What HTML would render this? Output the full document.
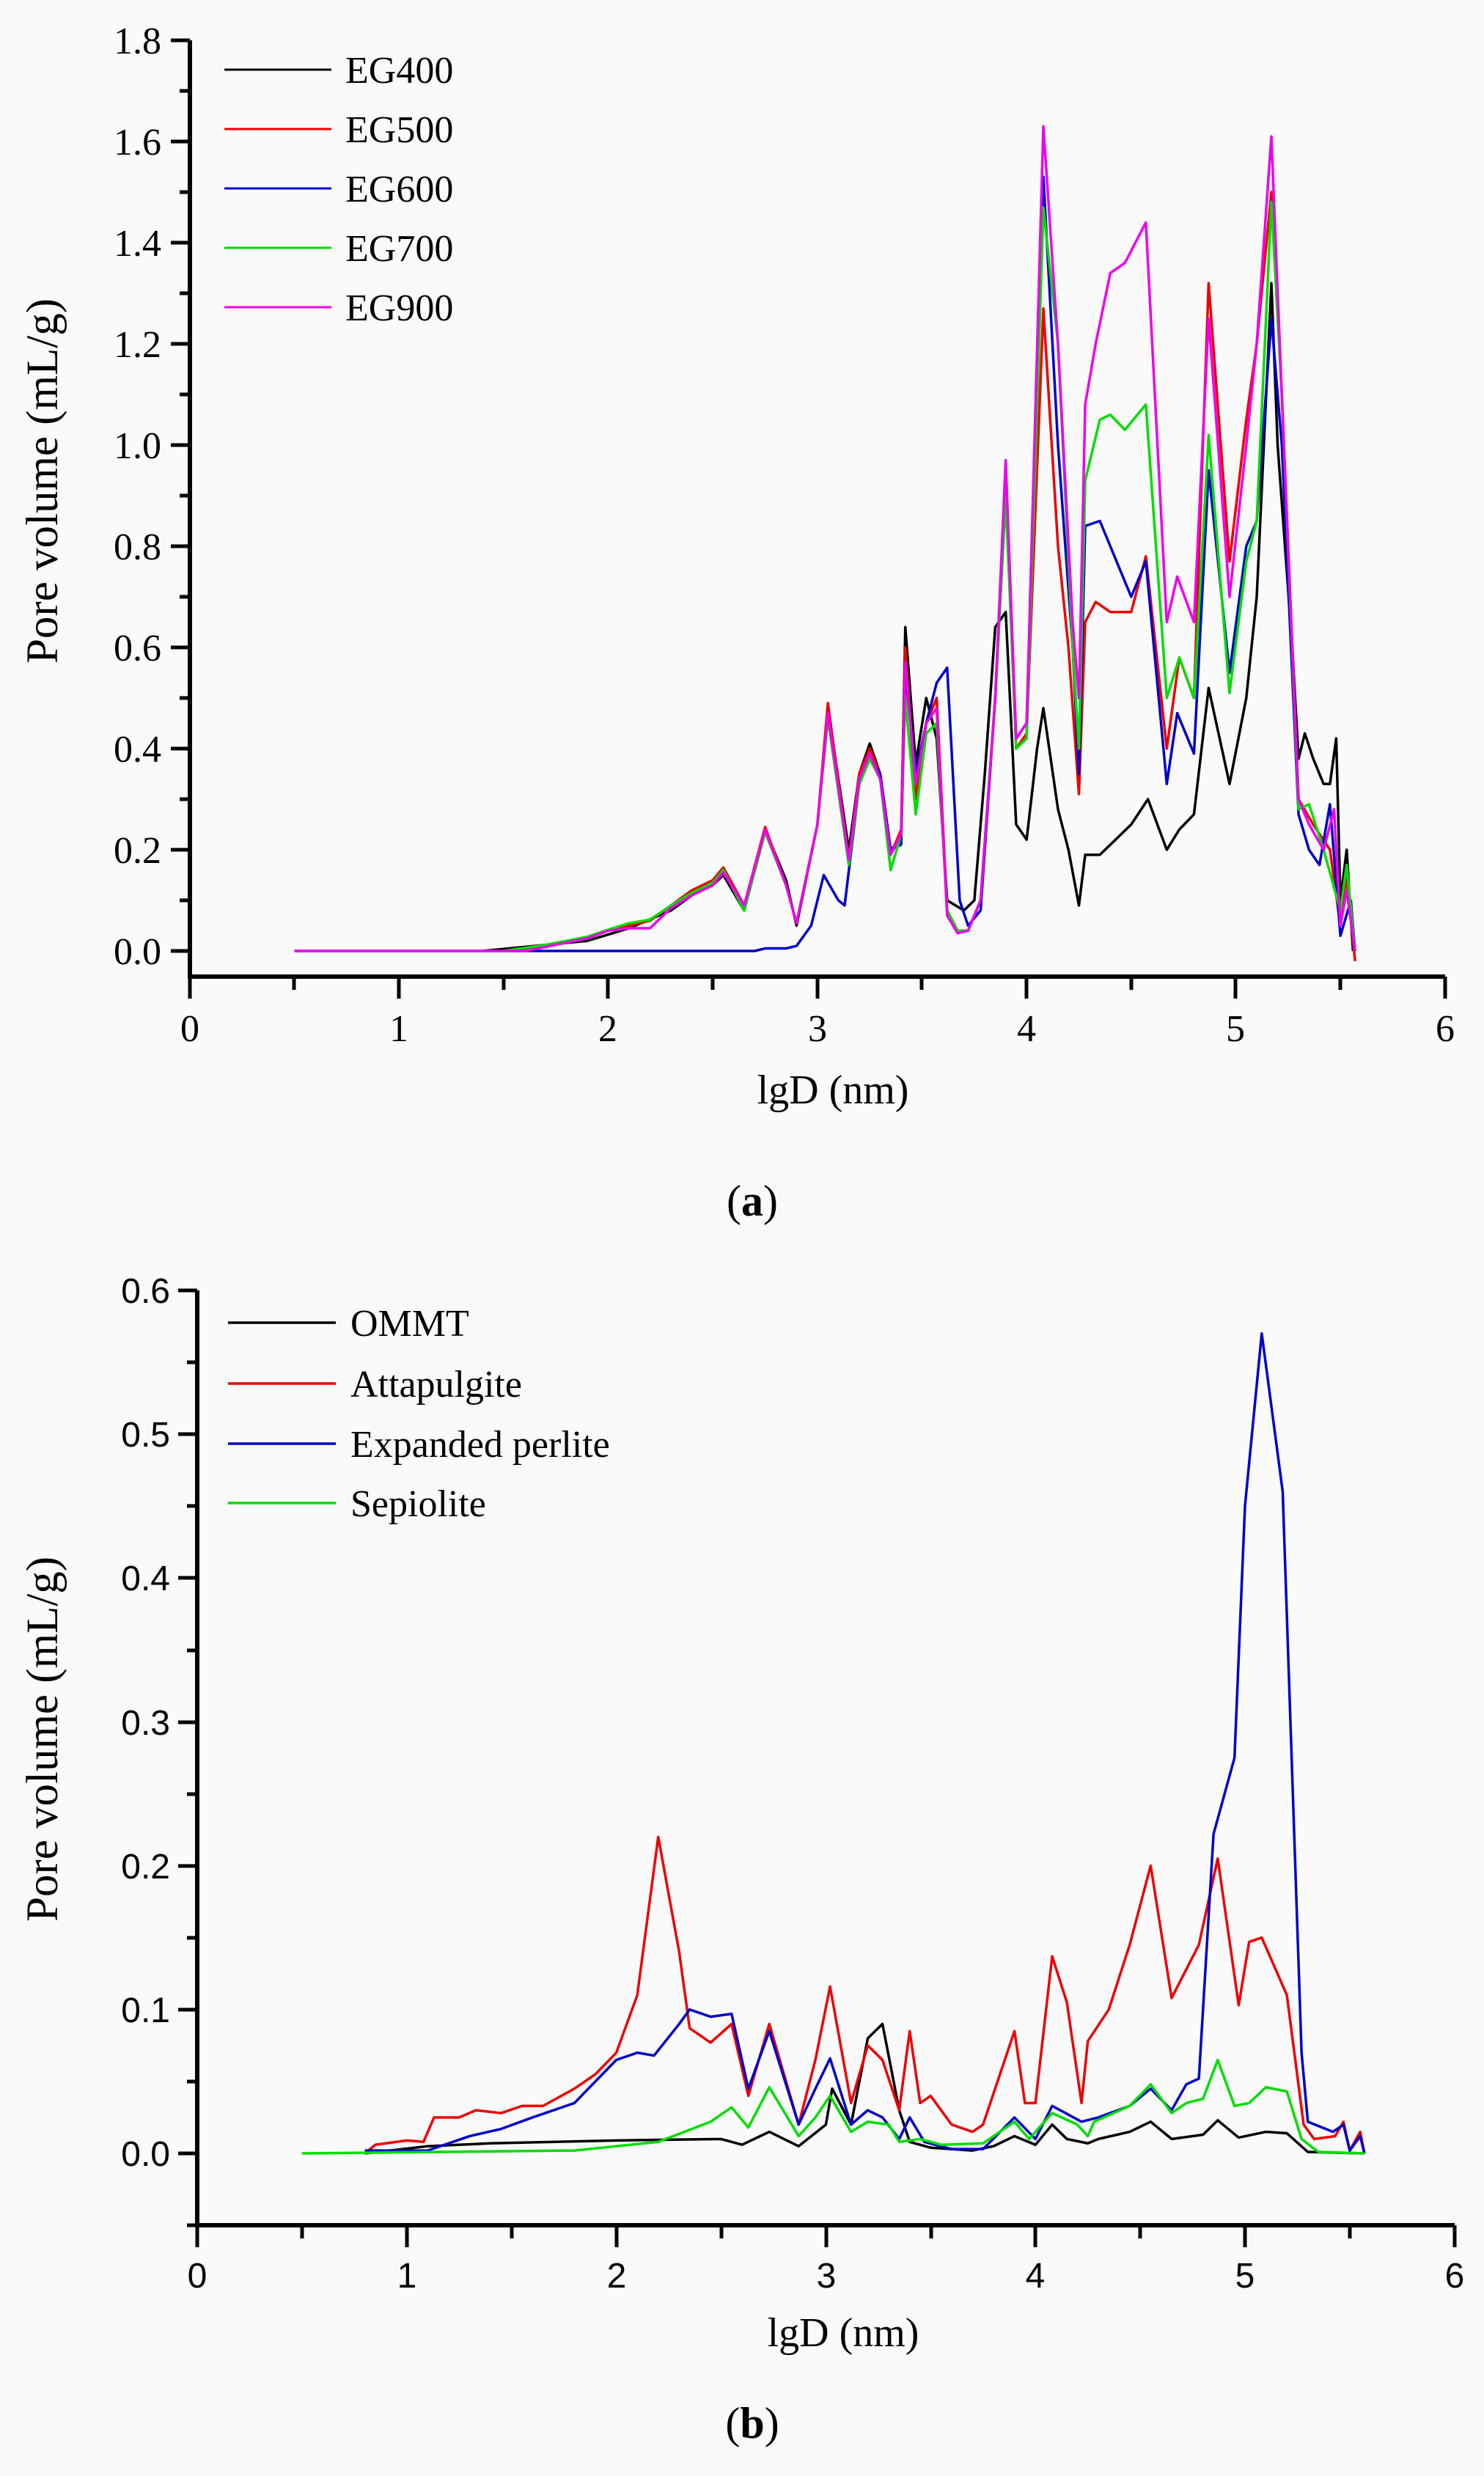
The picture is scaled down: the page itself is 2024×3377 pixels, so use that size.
<!DOCTYPE html>
<html><head><meta charset="utf-8"><style>
html,body{margin:0;padding:0;background:#fafafa}
svg{display:block}
.s{font-family:"Liberation Serif",serif}
.ss{font-family:"Liberation Sans",sans-serif}
</style></head><body>
<svg width="2024" height="3377" viewBox="0 0 2024 3377" xmlns="http://www.w3.org/2000/svg">
<rect width="2024" height="3377" fill="#fafafa"/>
<!-- Panel A -->
<g stroke="#000" stroke-width="6" fill="none">
<path d="M259,55 V1332 H1971"/>
</g>
<g stroke="#000" stroke-width="5">
<path d="M233,55H259M233,331H259M233,607H259M233,883H259M233,1159H259M233,1297H259M233,193H259M233,469H259M233,745H259M233,1021H259"/>
<path d="M245,124H259M245,262H259M245,400H259M245,538H259M245,676H259M245,814H259M245,952H259M245,1090H259M245,1228H259"/>
<path d="M259,1332V1362M544,1332V1362M829,1332V1362M1115,1332V1362M1400,1332V1362M1685,1332V1362M1971,1332V1362"/>
<path d="M401,1332V1350M687,1332V1350M972,1332V1350M1257,1332V1350M1543,1332V1350M1828,1332V1350"/>
</g>
<g class="s" font-size="52" text-anchor="end" fill="#000">
<text x="220" y="73">1.8</text><text x="220" y="211">1.6</text><text x="220" y="349">1.4</text><text x="220" y="487">1.2</text><text x="220" y="625">1.0</text><text x="220" y="763">0.8</text><text x="220" y="901">0.6</text><text x="220" y="1039">0.4</text><text x="220" y="1177">0.2</text><text x="220" y="1315">0.0</text>
</g>
<g class="s" font-size="52" text-anchor="middle" fill="#000">
<text x="259" y="1420">0</text><text x="544" y="1420">1</text><text x="829" y="1420">2</text><text x="1115" y="1420">3</text><text x="1400" y="1420">4</text><text x="1685" y="1420">5</text><text x="1971" y="1420">6</text>
</g>
<text class="s" font-size="56" text-anchor="middle" x="1136" y="1505">lgD (nm)</text>
<text class="s" font-size="61" text-anchor="middle" transform="translate(78,656) rotate(-90)">Pore volume (mL/g)</text>
<text class="s" font-size="60" text-anchor="middle" x="1026" y="1658">(<tspan font-weight="bold">a</tspan>)</text>
<g stroke-width="3">
<line x1="306" y1="95" x2="452" y2="95" stroke="#000"/>
<line x1="306" y1="176" x2="452" y2="176" stroke="#e00"/>
<line x1="306" y1="257" x2="452" y2="257" stroke="#00c"/>
<line x1="306" y1="338" x2="452" y2="338" stroke="#0d0"/>
<line x1="306" y1="419" x2="452" y2="419" stroke="#e0e"/>
</g>
<g class="s" font-size="52" fill="#000">
<text x="471" y="113">EG400</text><text x="471" y="194">EG500</text><text x="471" y="275">EG600</text><text x="471" y="356">EG700</text><text x="471" y="437">EG900</text>
</g>
<g fill="none" stroke-width="3.5" stroke-linejoin="round">
<g transform="matrix(285.3,0,0,-690,259,1297)">
<polyline vector-effect="non-scaling-stroke" stroke="#000" points="1.4,0 1.9,0.02 2.1,0.045 2.3,0.08 2.4,0.11 2.5,0.13 2.55,0.15 2.65,0.08 2.75,0.24 2.85,0.14 2.9,0.05 3.0,0.25 3.05,0.48 3.15,0.2 3.2,0.35 3.25,0.41 3.3,0.35 3.35,0.2 3.4,0.22 3.42,0.64 3.47,0.37 3.52,0.5 3.57,0.42 3.62,0.1 3.7,0.08 3.75,0.1 3.8,0.35 3.85,0.64 3.9,0.67 3.95,0.25 4.0,0.22 4.05,0.4 4.08,0.48 4.15,0.28 4.2,0.2 4.25,0.09 4.28,0.19 4.35,0.19 4.45,0.23 4.5,0.25 4.58,0.3 4.67,0.2 4.73,0.24 4.8,0.27 4.87,0.52 4.97,0.33 5.05,0.5 5.1,0.7 5.17,1.32 5.2,1.0 5.27,0.6 5.3,0.38 5.33,0.43 5.37,0.38 5.42,0.33 5.45,0.33 5.48,0.42 5.5,0.1 5.53,0.2 5.56,0"/>
<polyline vector-effect="non-scaling-stroke" stroke="#e00" points="1.5,0 1.7,0.01 1.9,0.025 2.0,0.04 2.1,0.05 2.2,0.06 2.3,0.09 2.4,0.12 2.5,0.14 2.55,0.165 2.65,0.09 2.75,0.245 2.85,0.13 2.9,0.055 3.0,0.25 3.05,0.49 3.15,0.18 3.2,0.35 3.25,0.4 3.3,0.35 3.35,0.19 3.4,0.24 3.42,0.6 3.47,0.3 3.52,0.45 3.57,0.5 3.62,0.08 3.67,0.04 3.72,0.04 3.78,0.1 3.85,0.5 3.9,0.95 3.95,0.4 4.0,0.43 4.08,1.27 4.15,0.8 4.2,0.6 4.25,0.31 4.28,0.65 4.33,0.69 4.4,0.67 4.5,0.67 4.57,0.78 4.67,0.4 4.73,0.58 4.8,0.5 4.87,1.32 4.97,0.77 5.05,1.05 5.1,1.2 5.17,1.5 5.22,1.1 5.3,0.3 5.37,0.25 5.45,0.2 5.5,0.05 5.53,0.15 5.57,-0.02"/>
<polyline vector-effect="non-scaling-stroke" stroke="#00c" points="0.5,0 2.7,0 2.75,0.005 2.85,0.005 2.9,0.01 2.97,0.05 3.03,0.15 3.1,0.1 3.13,0.09 3.2,0.33 3.25,0.38 3.3,0.35 3.35,0.2 3.4,0.21 3.42,0.55 3.47,0.35 3.52,0.45 3.57,0.53 3.62,0.56 3.68,0.1 3.72,0.05 3.78,0.08 3.85,0.5 3.9,0.9 3.95,0.42 4.0,0.45 4.08,1.53 4.15,1.0 4.22,0.6 4.25,0.35 4.28,0.84 4.35,0.85 4.4,0.8 4.5,0.7 4.57,0.77 4.67,0.33 4.72,0.47 4.8,0.39 4.87,0.95 4.97,0.55 5.05,0.8 5.1,0.85 5.17,1.25 5.22,1.0 5.3,0.27 5.35,0.2 5.4,0.17 5.45,0.29 5.5,0.03 5.55,0.1 5.57,0"/>
<polyline vector-effect="non-scaling-stroke" stroke="#0d0" points="1.5,0 1.7,0.012 1.9,0.028 2.0,0.042 2.1,0.055 2.2,0.062 2.3,0.09 2.4,0.115 2.5,0.135 2.55,0.16 2.65,0.08 2.75,0.235 2.85,0.13 2.9,0.055 3.0,0.25 3.05,0.46 3.15,0.17 3.2,0.33 3.25,0.38 3.3,0.34 3.35,0.16 3.4,0.23 3.42,0.5 3.47,0.27 3.52,0.43 3.57,0.45 3.62,0.08 3.67,0.04 3.72,0.04 3.78,0.1 3.85,0.5 3.9,0.9 3.95,0.4 4.0,0.42 4.08,1.47 4.15,1.2 4.22,0.6 4.25,0.4 4.28,0.93 4.35,1.05 4.4,1.06 4.47,1.03 4.57,1.08 4.67,0.5 4.73,0.58 4.8,0.5 4.87,1.02 4.97,0.51 5.05,0.77 5.1,0.85 5.17,1.48 5.22,1.1 5.3,0.28 5.35,0.29 5.42,0.2 5.5,0.08 5.53,0.17 5.57,0"/>
<polyline vector-effect="non-scaling-stroke" stroke="#e0e" points="0.5,0 1.6,0 1.7,0.008 1.9,0.025 2.0,0.04 2.1,0.045 2.2,0.045 2.3,0.085 2.4,0.11 2.5,0.13 2.55,0.155 2.65,0.09 2.75,0.24 2.85,0.13 2.9,0.055 3.0,0.25 3.05,0.47 3.15,0.18 3.2,0.34 3.25,0.39 3.3,0.34 3.35,0.19 3.4,0.23 3.42,0.57 3.47,0.33 3.52,0.45 3.57,0.48 3.62,0.07 3.67,0.035 3.72,0.04 3.78,0.1 3.85,0.5 3.9,0.97 3.95,0.42 4.0,0.45 4.08,1.63 4.15,1.2 4.22,0.65 4.25,0.5 4.28,1.08 4.33,1.2 4.4,1.34 4.47,1.36 4.57,1.44 4.67,0.65 4.72,0.74 4.8,0.65 4.87,1.25 4.97,0.7 5.05,1.0 5.1,1.2 5.17,1.61 5.22,1.1 5.3,0.3 5.35,0.25 5.42,0.2 5.47,0.28 5.5,0.05 5.53,0.12 5.57,0"/>
</g>
</g>

<!-- Panel B -->
<g stroke="#000" stroke-width="6" fill="none">
<path d="M269,1760 V3035 H1984"/>
</g>
<g stroke="#000" stroke-width="5">
<path d="M243,1760H269M243,1956H269M243,2152H269M243,2349H269M243,2545H269M243,2741H269M243,2937H269"/>
<path d="M255,1858H269M255,2054H269M255,2251H269M255,2447H269M255,2643H269M255,2839H269M255,3035H269"/>
<path d="M269,3035V3065M555,3035V3065M841,3035V3065M1127,3035V3065M1412,3035V3065M1698,3035V3065M1984,3035V3065"/>
<path d="M412,3035V3053M698,3035V3053M984,3035V3053M1270,3035V3053M1555,3035V3053M1841,3035V3053"/>
</g>
<g class="ss" font-size="48" text-anchor="end" fill="#000">
<text x="232" y="1777">0.6</text><text x="232" y="1973">0.5</text><text x="232" y="2169">0.4</text><text x="232" y="2366">0.3</text><text x="232" y="2562">0.2</text><text x="232" y="2758">0.1</text><text x="232" y="2954">0.0</text>
</g>
<g class="ss" font-size="48" text-anchor="middle" fill="#000">
<text x="269" y="3120">0</text><text x="555" y="3120">1</text><text x="841" y="3120">2</text><text x="1127" y="3120">3</text><text x="1412" y="3120">4</text><text x="1698" y="3120">5</text><text x="1984" y="3120">6</text>
</g>
<text class="s" font-size="56" text-anchor="middle" x="1150" y="3200">lgD (nm)</text>
<text class="s" font-size="61" text-anchor="middle" transform="translate(78,2372) rotate(-90)">Pore volume (mL/g)</text>
<text class="s" font-size="60" text-anchor="middle" x="1026" y="3325">(<tspan font-weight="bold">b</tspan>)</text>
<g stroke-width="3.5">
<line x1="311" y1="1804" x2="458" y2="1804" stroke="#000"/>
<line x1="311" y1="1887" x2="458" y2="1887" stroke="#e00"/>
<line x1="311" y1="1969" x2="458" y2="1969" stroke="#00c"/>
<line x1="311" y1="2050" x2="458" y2="2050" stroke="#0d0"/>
</g>
<g class="s" font-size="52" fill="#000">
<text x="478" y="1822">OMMT</text><text x="478" y="1905">Attapulgite</text><text x="478" y="1987">Expanded perlite</text><text x="478" y="2068">Sepiolite</text>
</g>
<g fill="none" stroke-width="3.5" stroke-linejoin="round">
<g transform="matrix(285.8,0,0,-1962,269,2937)">
<polyline vector-effect="non-scaling-stroke" stroke="#000" points="0.8,0 1.1,0.005 1.4,0.007 2.0,0.009 2.5,0.01 2.6,0.006 2.73,0.015 2.87,0.005 3.0,0.02 3.03,0.045 3.12,0.02 3.2,0.08 3.27,0.09 3.35,0.03 3.4,0.008 3.5,0.004 3.7,0.002 3.8,0.005 3.9,0.012 4.0,0.006 4.08,0.02 4.15,0.01 4.25,0.007 4.3,0.01 4.45,0.015 4.55,0.022 4.65,0.01 4.8,0.013 4.87,0.023 4.97,0.011 5.1,0.015 5.2,0.014 5.3,0.001 5.57,0"/>
<polyline vector-effect="non-scaling-stroke" stroke="#e00" points="0.8,0 0.85,0.006 1.0,0.009 1.08,0.008 1.13,0.025 1.25,0.025 1.33,0.03 1.45,0.028 1.55,0.033 1.65,0.033 1.8,0.045 1.9,0.055 2.0,0.07 2.1,0.11 2.2,0.22 2.3,0.14 2.35,0.087 2.45,0.077 2.55,0.09 2.63,0.04 2.73,0.09 2.87,0.02 2.95,0.065 3.02,0.116 3.12,0.035 3.2,0.075 3.27,0.065 3.35,0.03 3.4,0.085 3.45,0.035 3.5,0.04 3.6,0.02 3.7,0.015 3.75,0.02 3.9,0.085 3.95,0.035 4.0,0.035 4.08,0.137 4.15,0.105 4.22,0.035 4.25,0.078 4.35,0.1 4.45,0.145 4.55,0.2 4.65,0.108 4.78,0.145 4.87,0.205 4.97,0.103 5.02,0.147 5.08,0.15 5.2,0.11 5.28,0.02 5.33,0.01 5.43,0.012 5.47,0.022 5.5,0.002 5.55,0.015 5.57,0"/>
<polyline vector-effect="non-scaling-stroke" stroke="#00c" points="0.8,0.002 1.1,0.002 1.2,0.007 1.3,0.012 1.45,0.017 1.6,0.025 1.8,0.035 1.9,0.05 2.0,0.065 2.1,0.07 2.18,0.068 2.3,0.09 2.35,0.1 2.45,0.095 2.55,0.097 2.63,0.045 2.73,0.085 2.87,0.02 2.95,0.045 3.02,0.066 3.12,0.02 3.2,0.03 3.27,0.025 3.35,0.01 3.4,0.025 3.47,0.008 3.6,0.003 3.75,0.003 3.9,0.025 4.0,0.01 4.08,0.033 4.22,0.022 4.3,0.025 4.45,0.033 4.55,0.045 4.65,0.03 4.72,0.048 4.78,0.052 4.85,0.222 4.95,0.275 5.0,0.45 5.08,0.57 5.18,0.46 5.27,0.07 5.3,0.022 5.42,0.015 5.47,0.02 5.5,0.002 5.55,0.012 5.57,0"/>
<polyline vector-effect="non-scaling-stroke" stroke="#0d0" points="0.5,0 1.8,0.002 2.0,0.005 2.2,0.008 2.45,0.022 2.55,0.032 2.63,0.018 2.73,0.046 2.87,0.012 2.95,0.025 3.02,0.04 3.12,0.015 3.2,0.022 3.3,0.02 3.35,0.008 3.45,0.01 3.55,0.006 3.75,0.007 3.9,0.022 3.97,0.01 4.08,0.028 4.2,0.02 4.25,0.012 4.28,0.022 4.45,0.033 4.55,0.048 4.65,0.028 4.72,0.035 4.8,0.038 4.87,0.065 4.95,0.033 5.02,0.035 5.1,0.046 5.2,0.043 5.27,0.01 5.35,0.001 5.57,0"/>
</g>
</g>
</svg>
</body></html>
